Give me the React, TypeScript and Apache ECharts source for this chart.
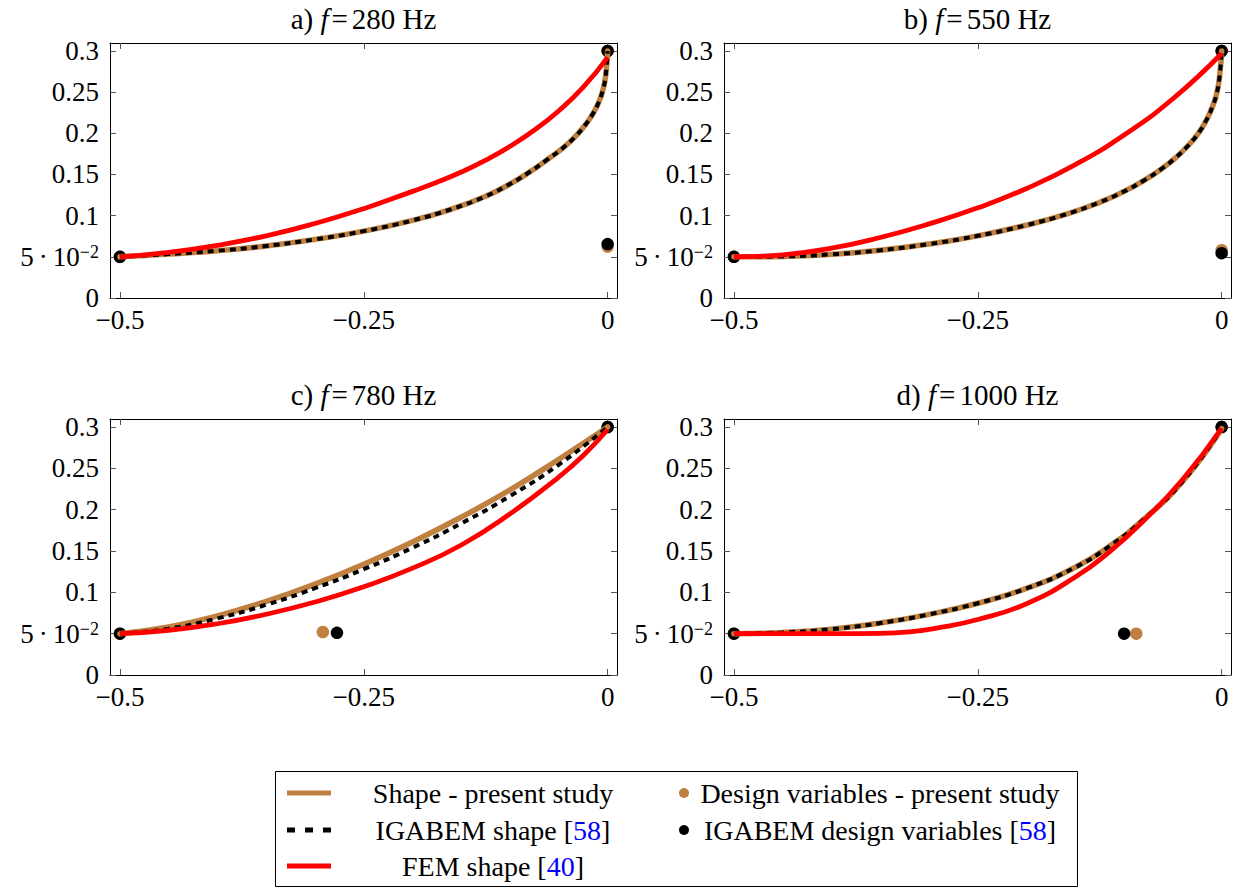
import React, { useEffect, useRef } from 'react';
import * as echarts from 'echarts';

// ---------- data ----------
const panelLetters = ['a', 'b', 'c', 'd'];
const panelFreqs = [280, 550, 780, 1000];

const xTickValues = [-0.5, -0.25, 0];
const xTickLabels = ['−0.5', '−0.25', '0'];
const yTickValues = [0, 0.05, 0.1, 0.15, 0.2, 0.25, 0.3];
const yTickLabels = ['0', '5·10^−2', '0.1', '0.15', '0.2', '0.25', '0.3'];

const legendNames = [
  'Shape - present study',
  'IGABEM shape [58]',
  'FEM shape [40]',
  'Design variables - present study',
  'IGABEM design variables [58]',
];

// a) f = 280 Hz
const shapeA = [[-0.5, 0.05], [-0.45, 0.0533], [-0.4, 0.0574], [-0.35, 0.0632], [-0.3, 0.0712], [-0.25, 0.0812], [-0.2, 0.0942], [-0.16, 0.108], [-0.125, 0.1235], [-0.1, 0.1385], [-0.08, 0.153], [-0.062, 0.168], [-0.047, 0.181], [-0.034, 0.195], [-0.023, 0.21], [-0.015, 0.224], [-0.009, 0.238], [-0.005, 0.252], [-0.002, 0.27], [0, 0.3]];
const igaShapeA = [[-0.5, 0.05], [-0.45, 0.0533], [-0.4, 0.0574], [-0.35, 0.0632], [-0.3, 0.0712], [-0.25, 0.0812], [-0.2, 0.0942], [-0.16, 0.108], [-0.125, 0.1235], [-0.1, 0.1385], [-0.08, 0.153], [-0.062, 0.168], [-0.047, 0.181], [-0.034, 0.195], [-0.023, 0.21], [-0.015, 0.224], [-0.009, 0.238], [-0.005, 0.252], [-0.002, 0.27], [0, 0.3]];
const femShapeA = [[-0.5, 0.05], [-0.45, 0.0555], [-0.4, 0.064], [-0.35, 0.0755], [-0.3, 0.0905], [-0.25, 0.1085], [-0.2, 0.1295], [-0.175, 0.1405], [-0.15, 0.153], [-0.125, 0.1675], [-0.1, 0.1843], [-0.075, 0.204], [-0.05, 0.2275], [-0.025, 0.256], [0, 0.2923]];
const designA = [[-0.5, 0.05], [0, 0.0625], [0, 0.3]];
const igaDesignA = [[-0.5, 0.05], [0, 0.0655], [0, 0.3]];

// b) f = 550 Hz
const shapeB = [[-0.5, 0.05], [-0.45, 0.0505], [-0.4, 0.053], [-0.35, 0.058], [-0.3, 0.0655], [-0.25, 0.0755], [-0.2, 0.0885], [-0.16, 0.1015], [-0.125, 0.1162], [-0.1, 0.1295], [-0.08, 0.1425], [-0.062, 0.1565], [-0.047, 0.1705], [-0.034, 0.1855], [-0.023, 0.2015], [-0.015, 0.2175], [-0.009, 0.2335], [-0.005, 0.2485], [-0.002, 0.27], [0, 0.3]];
const igaShapeB = [[-0.5, 0.05], [-0.45, 0.0505], [-0.4, 0.053], [-0.35, 0.058], [-0.3, 0.0655], [-0.25, 0.0755], [-0.2, 0.0885], [-0.16, 0.1015], [-0.125, 0.1162], [-0.1, 0.1295], [-0.08, 0.1425], [-0.062, 0.1565], [-0.047, 0.1705], [-0.034, 0.1855], [-0.023, 0.2015], [-0.015, 0.2175], [-0.009, 0.2335], [-0.005, 0.2485], [-0.002, 0.27], [0, 0.3]];
const femShapeB = [[-0.5, 0.05], [-0.45, 0.0525], [-0.4, 0.0605], [-0.35, 0.0735], [-0.3, 0.09], [-0.25, 0.1095], [-0.2, 0.133], [-0.15, 0.162], [-0.1, 0.198], [-0.05, 0.242], [0, 0.297]];
const designB = [[-0.5, 0.05], [0, 0.058], [0, 0.3]];
const igaDesignB = [[-0.5, 0.05], [0, 0.0545], [0, 0.3]];

// c) f = 780 Hz
const shapeC = [[-0.5, 0.05], [-0.45, 0.058], [-0.4, 0.0715], [-0.35, 0.089], [-0.3, 0.11], [-0.25, 0.134], [-0.2, 0.161], [-0.15, 0.191], [-0.1, 0.224], [-0.05, 0.261], [0, 0.3]];
const igaShapeC = [[-0.5, 0.05], [-0.45, 0.056], [-0.4, 0.0685], [-0.35, 0.085], [-0.3, 0.105], [-0.25, 0.128], [-0.2, 0.154], [-0.15, 0.1835], [-0.1, 0.2165], [-0.05, 0.2545], [0, 0.3]];
const femShapeC = [[-0.5, 0.05], [-0.45, 0.054], [-0.4, 0.062], [-0.35, 0.0735], [-0.3, 0.0883], [-0.25, 0.1068], [-0.2, 0.1293], [-0.15, 0.1573], [-0.1, 0.195], [-0.05, 0.2395], [-0.025, 0.2655], [0, 0.297]];
const designC = [[-0.5, 0.05], [-0.292, 0.052], [0, 0.3]];
const igaDesignC = [[-0.5, 0.05], [-0.2775, 0.051], [0, 0.3]];

// d) f = 1000 Hz
const shapeD = [[-0.5, 0.05], [-0.45, 0.0515], [-0.4, 0.0555], [-0.35, 0.0628], [-0.3, 0.0733], [-0.25, 0.0868], [-0.2, 0.1048], [-0.15, 0.1303], [-0.115, 0.1558], [-0.08, 0.1882], [-0.04, 0.2342], [0, 0.298]];
const igaShapeD = [[-0.5, 0.05], [-0.45, 0.0515], [-0.4, 0.0555], [-0.35, 0.0628], [-0.3, 0.0733], [-0.25, 0.0868], [-0.2, 0.1048], [-0.15, 0.1303], [-0.115, 0.1558], [-0.08, 0.1882], [-0.04, 0.2342], [0, 0.298]];
const femShapeD = [[-0.5, 0.05], [-0.45, 0.05], [-0.4, 0.05], [-0.35, 0.0503], [-0.32, 0.0522], [-0.29, 0.0572], [-0.25, 0.0672], [-0.2, 0.0862], [-0.15, 0.1185], [-0.115, 0.149], [-0.08, 0.1865], [-0.04, 0.2365], [0, 0.2985]];
const designD = [[-0.5, 0.05], [-0.0875, 0.05], [0, 0.3]];
const igaDesignD = [[-0.5, 0.05], [-0.1, 0.05], [0, 0.3]];

const shapes = [shapeA, shapeB, shapeC, shapeD];
const igaShapes = [igaShapeA, igaShapeB, igaShapeC, igaShapeD];
const femShapes = [femShapeA, femShapeB, femShapeC, femShapeD];
const designs = [designA, designB, designC, designD];
const igaDesigns = [igaDesignA, igaDesignB, igaDesignC, igaDesignD];

// ---------- style ----------
const BROWN = '#BF8040';
const RED = '#FF0000';
const FONT = '"Liberation Serif", "Times New Roman", serif';
const FS = 27;
const X_MIN = -0.5102;
const X_MAX = 0.0096;
const Y_MIN = 0;
const Y_MAX = 0.3097;
const SMOOTH = 0.5;

const layouts = [
  { left: 110, top: 43, width: 507, height: 255 },
  { left: 724, top: 43, width: 507, height: 255 },
  { left: 110, top: 419, width: 507, height: 256 },
  { left: 724, top: 419, width: 507, height: 256 },
];

function lookup(values: number[], labels: string[], v: number): string {
  const i = values.findIndex((t) => Math.abs(t - v) < 1e-9);
  return i >= 0 ? labels[i] : '';
}

function yFormatter(v: number): string {
  const s = lookup(yTickValues, yTickLabels, v);
  if (s.includes('^')) {
    const [base, sup] = s.split('^');
    const [m, p] = base.split('·');
    return `{b|${m}}{d|·}{b|${p}}{s|${sup}}`;
  }
  return s;
}

function buildOption() {
  const grid: any[] = [];
  const xAxis: any[] = [];
  const yAxis: any[] = [];
  const series: any[] = [];
  const graphic: any[] = [];

  const tickStyle = { color: '#555', width: 1 };
  const axisLineStyle = { color: '#000', width: 1 };

  layouts.forEach((l, i) => {
    grid.push({ left: l.left, top: l.top, width: l.width, height: l.height, containLabel: false });
    xAxis.push({
      type: 'value', gridIndex: i, min: X_MIN, max: X_MAX, position: 'bottom',
      axisLine: { show: true, onZero: false, lineStyle: axisLineStyle },
      axisTick: { show: true, inside: true, length: 6, customValues: xTickValues, lineStyle: tickStyle },
      axisLabel: {
        show: true, customValues: xTickValues, margin: 8, color: '#000', fontFamily: FONT, fontSize: FS,
        formatter: (v: number) => lookup(xTickValues, xTickLabels, v),
      },
      splitLine: { show: false },
    });
    xAxis.push({
      type: 'value', gridIndex: i, min: X_MIN, max: X_MAX, position: 'top',
      axisLine: { show: true, onZero: false, lineStyle: axisLineStyle },
      axisTick: { show: true, inside: true, length: 6, customValues: xTickValues, lineStyle: tickStyle },
      axisLabel: { show: false },
      splitLine: { show: false },
    });
    yAxis.push({
      type: 'value', gridIndex: i, min: Y_MIN, max: Y_MAX, position: 'left',
      axisLine: { show: true, onZero: false, lineStyle: axisLineStyle },
      axisTick: { show: true, inside: true, length: 6, customValues: yTickValues, lineStyle: tickStyle },
      axisLabel: {
        show: true, customValues: yTickValues, margin: 11, color: '#000', fontFamily: FONT, fontSize: FS,
        formatter: yFormatter,
        rich: {
          b: { fontFamily: FONT, fontSize: FS, color: '#000', lineHeight: 27, padding: [9, 0, 0, 0], verticalAlign: 'bottom' },
          d: { fontFamily: FONT, fontSize: FS, color: '#000', lineHeight: 27, padding: [9, 5, 0, 5], verticalAlign: 'bottom' },
          s: { fontFamily: FONT, fontSize: 18, color: '#000', lineHeight: 18, verticalAlign: 'top' },
        },
      },
      splitLine: { show: false },
    });
    yAxis.push({
      type: 'value', gridIndex: i, min: Y_MIN, max: Y_MAX, position: 'right',
      axisLine: { show: true, onZero: false, lineStyle: axisLineStyle },
      axisTick: { show: true, inside: true, length: 6, customValues: yTickValues, lineStyle: tickStyle },
      axisLabel: { show: false },
      splitLine: { show: false },
    });

    const xi = 2 * i;
    const yi = 2 * i;
    series.push({
      name: legendNames[0], type: 'line', xAxisIndex: xi, yAxisIndex: yi, data: shapes[i],
      symbol: 'none', smooth: SMOOTH,
      lineStyle: { color: BROWN, width: 5.5, cap: 'round' },
    });
    series.push({
      name: legendNames[1], type: 'line', xAxisIndex: xi, yAxisIndex: yi, data: igaShapes[i],
      symbol: 'none', smooth: SMOOTH,
      lineStyle: { color: '#000', width: 4, type: [6, 5] },
    });
    series.push({
      name: legendNames[2], type: 'line', xAxisIndex: xi, yAxisIndex: yi, data: femShapes[i],
      symbol: 'none', smooth: SMOOTH,
      lineStyle: { color: RED, width: 4.8 },
    });
    series.push({
      name: legendNames[3], type: 'scatter', xAxisIndex: xi, yAxisIndex: yi, data: designs[i],
      symbol: 'circle', symbolSize: 12.5, itemStyle: { color: BROWN, opacity: 1 },
    });
    series.push({
      name: legendNames[4], type: 'scatter', xAxisIndex: xi, yAxisIndex: yi, data: igaDesigns[i],
      symbol: 'circle', symbolSize: 12.5, itemStyle: { color: '#000', opacity: 1 },
    });

    graphic.push({
      type: 'text', x: l.left + l.width / 2, y: l.top - 24, silent: true,
      style: {
        text: `{n|${panelLetters[i]}) }{i|f}{e|=}{n|${panelFreqs[i]} Hz}`,
        align: 'center', verticalAlign: 'middle', textAlign: 'center', textVerticalAlign: 'middle',
        fill: '#000', fontFamily: FONT, fontSize: 29,
        rich: {
          n: { fontFamily: FONT, fontSize: 29, fill: '#000' },
          i: { fontFamily: FONT, fontSize: 29, fontStyle: 'italic', fill: '#000' },
          e: { fontFamily: FONT, fontSize: 29, fill: '#000', padding: [0, 4, 0, 3] },
        },
      },
    });
  });

  const legRich = {
    n: { fontFamily: FONT, fontSize: 28, fill: '#000' },
    c: { fontFamily: FONT, fontSize: 28, fill: '#0000FF' },
  };
  const toRich = (s: string) => {
    const m = s.match(/^(.*\[)(\d+)(\])$/);
    return m ? `{n|${m[1]}}{c|${m[2]}}{n|${m[3]}}` : `{n|${s}}`;
  };
  const legText = (s: string, x: number, y: number) => ({
    type: 'text', x, y, silent: true, z: 11,
    style: {
      text: toRich(s), align: 'center', verticalAlign: 'middle', textAlign: 'center', textVerticalAlign: 'middle',
      fill: '#000', fontFamily: FONT, fontSize: 28, rich: legRich,
    },
  });
  const rows = [793, 830, 866];
  graphic.push({
    type: 'rect', silent: true, z: 10,
    shape: { x: 275.5, y: 771.5, width: 802, height: 115 },
    style: { fill: '#fff', stroke: '#000', lineWidth: 1 },
  });
  graphic.push({ type: 'line', silent: true, z: 11, shape: { x1: 287, y1: rows[0], x2: 331, y2: rows[0] }, style: { stroke: BROWN, lineWidth: 5 } });
  graphic.push({ type: 'line', silent: true, z: 11, shape: { x1: 287, y1: rows[1], x2: 331, y2: rows[1] }, style: { stroke: '#000', lineWidth: 5, lineDash: [8, 10] } });
  graphic.push({ type: 'line', silent: true, z: 11, shape: { x1: 287, y1: rows[2], x2: 331, y2: rows[2] }, style: { stroke: RED, lineWidth: 5 } });
  graphic.push({ type: 'circle', silent: true, z: 11, shape: { cx: 684, cy: rows[0], r: 5 }, style: { fill: BROWN } });
  graphic.push({ type: 'circle', silent: true, z: 11, shape: { cx: 684, cy: rows[1], r: 5 }, style: { fill: '#000' } });
  graphic.push(legText(legendNames[0], 493, rows[0]));
  graphic.push(legText(legendNames[1], 493, rows[1]));
  graphic.push(legText(legendNames[2], 493, rows[2]));
  graphic.push(legText(legendNames[3], 880, rows[0]));
  graphic.push(legText(legendNames[4], 880, rows[1]));

  return {
    animation: false,
    backgroundColor: '#fff',
    textStyle: { fontFamily: FONT },
    grid,
    xAxis,
    yAxis,
    series,
    graphic,
  };
}

export default function App() {
  const ref = useRef<HTMLDivElement>(null);
  useEffect(() => {
    document.body.style.margin = '0';
    if (!ref.current) return;
    const chart = echarts.init(ref.current, undefined, { renderer: 'svg' });
    chart.setOption(buildOption() as any);
    return () => chart.dispose();
  }, []);
  return <div ref={ref} style={{ width: 1238, height: 888 }} />;
}
